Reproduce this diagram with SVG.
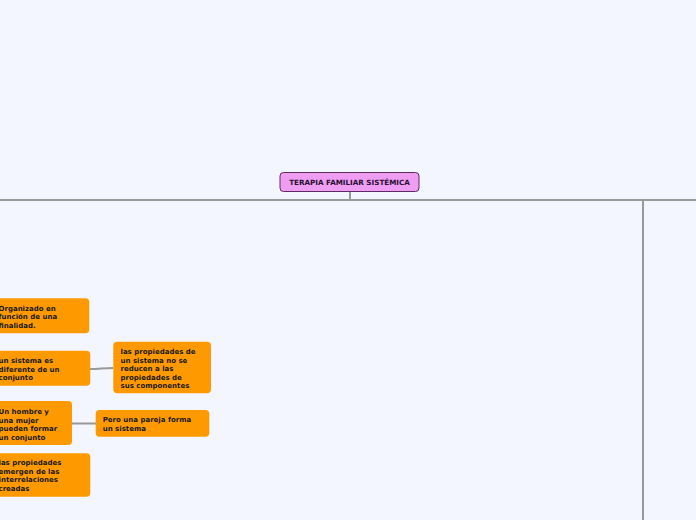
<svg xmlns="http://www.w3.org/2000/svg" width="696" height="520" viewBox="0 0 696 520">
<style>
.bg{fill:#F3F6FE}
.n{fill:#FF9900}
.t{font-family:"DejaVu Sans",Verdana,sans-serif;font-weight:bold;font-size:7px;fill:#1a1a1a}
.c{fill:none;stroke:#999999;stroke-width:2}
</style>
<rect class="bg" x="0" y="0" width="696" height="520"/>
<g id="connectors">
<path class="c" d="M350 191 V200"/>
<path class="c" d="M-2 200 H698"/>
<path class="c" d="M643 200 V522"/>
<path class="c" d="M90 369 C100 369 103 368 113 368"/>
<path class="c" d="M72 423.5 H96"/>
</g>
<g id="root">
<rect x="280" y="172.5" width="139" height="19" rx="3.5" fill="#EE9DF2" stroke="#5E2A66" stroke-width="1"/>
<text class="t" x="349.5" y="184.6" text-anchor="middle" style="font-size:7.2px;fill:#2a1030">TERAPIA FAMILIAR SISTÉMICA</text>
</g>
<g id="n1">
<rect class="n" x="-9" y="298.3" width="98.3" height="35" rx="4"/>
<text class="t" x="-1.5"><tspan x="-1.5" y="311">Organizado en</tspan><tspan x="-1.5" y="319.4">función de una</tspan><tspan x="-1.5" y="327.8">finalidad.</tspan></text>
</g>
<g id="n2">
<rect class="n" x="-9" y="350.7" width="99.3" height="35" rx="4"/>
<text class="t"><tspan x="-1.5" y="363.3">un sistema es</tspan><tspan x="-1.5" y="371.7">diferente de un</tspan><tspan x="-1.5" y="380.1">conjunto</tspan></text>
</g>
<g id="n3">
<rect class="n" x="113.3" y="341.7" width="97.7" height="51.6" rx="4"/>
<text class="t"><tspan x="120.5" y="354.3">las propiedades de</tspan><tspan x="120.5" y="362.7">un sistema no se</tspan><tspan x="120.5" y="371.1">reducen a las</tspan><tspan x="120.5" y="379.5">propiedades de</tspan><tspan x="120.5" y="387.9">sus componentes</tspan></text>
</g>
<g id="n4">
<rect class="n" x="-9" y="401" width="81" height="44" rx="4"/>
<text class="t"><tspan x="-1.5" y="414.3">Un hombre y</tspan><tspan x="-1.5" y="422.7">una mujer</tspan><tspan x="-1.5" y="431.1">pueden formar</tspan><tspan x="-1.5" y="439.5">un conjunto</tspan></text>
</g>
<g id="n5">
<rect class="n" x="95.7" y="410" width="113.6" height="26.7" rx="4"/>
<text class="t"><tspan x="102.7" y="422.3">Pero una pareja forma</tspan><tspan x="102.7" y="430.7">un sistema</tspan></text>
</g>
<g id="n6">
<rect class="n" x="-9" y="453.3" width="99.3" height="43.4" rx="4"/>
<text class="t"><tspan x="-1.5" y="465.3">las propiedades</tspan><tspan x="-1.5" y="473.7">emergen de las</tspan><tspan x="-1.5" y="482.1">interrelaciones</tspan><tspan x="-1.5" y="490.5">creadas</tspan></text>
</g>
</svg>
